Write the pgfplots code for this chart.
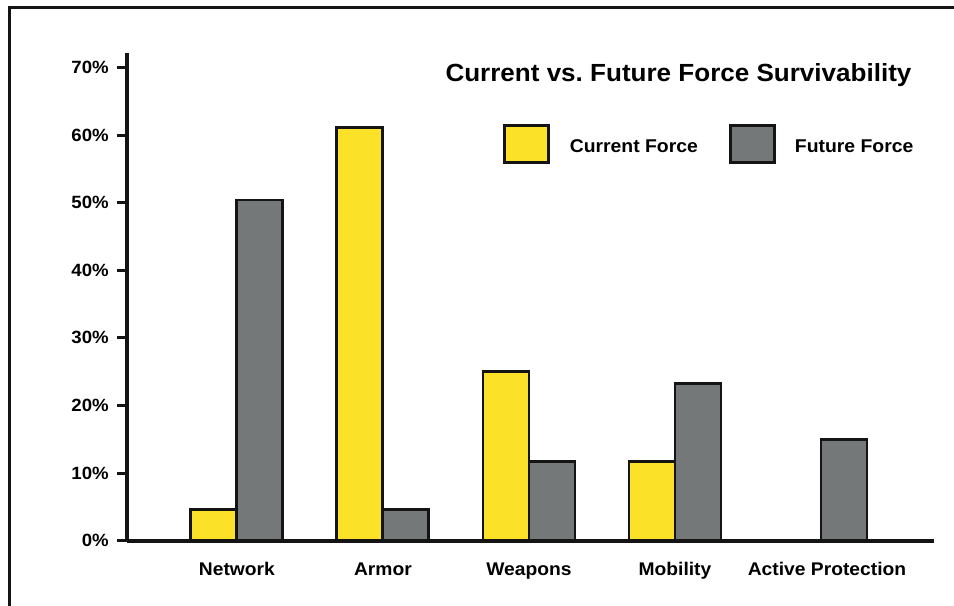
\documentclass[border=0pt]{standalone}
\usepackage{fontspec}
\setmainfont{Liberation Sans}[FakeStretch=1.05]
\usepackage{pgfplots}
\pgfplotsset{compat=1.18}
\definecolor{curyellow}{RGB}{251,226,40}
\definecolor{futgray}{RGB}{116,120,120}
\definecolor{ink}{RGB}{20,20,20}
\frenchspacing

\begin{document}
\begin{tikzpicture}
\useasboundingbox (0,0) rectangle (715.5pt,454.5pt);
% page frame: left and top rules
\draw[ink, line width=2.25pt] (6.75pt,0pt) -- (6.75pt,448.7pt) -- (716pt,448.7pt);
\begin{axis}[
  at={(95.25pt,48.975pt)}, anchor=south west,
  scale only axis, width=605.25pt, height=365.55pt,
  xmin=-0.753, xmax=4.774, ymin=0, ymax=72.1,
  ybar=0pt, bar width=34.5pt,
  axis on top,
  axis x line*=bottom, axis y line*=left,
  axis line style={line width=3pt, ink},
  ytick={0,10,...,70},
  yticklabels={0\%,10\%,20\%,30\%,40\%,50\%,60\%,70\%},
  tick align=outside, major tick length=7.5pt,
  ytick style={line width=2.25pt, ink},
  xtick={0,1,2,3,4},
  xticklabels={Network,Armor,Weapons,Mobility,\hspace*{9pt}Active Protection},
  xtick style={draw=none},
  yticklabel style={font=\fontsize{13.3}{15}\selectfont\bfseries, anchor=east, inner sep=0pt, xshift=-6pt},
  xticklabel style={font=\fontsize{13.75}{16}\selectfont\bfseries, anchor=base, inner sep=0pt, yshift=-18.75pt},
  legend columns=2,
  legend style={draw=none, fill=none, inner xsep=0pt, inner ysep=0pt,
    at={(0.4662,0.8139)}, anchor=west,
    font=\fontsize{13.85}{16}\selectfont\bfseries,
    nodes={inner sep=0pt},
    /tikz/every odd column/.append style={column sep=14.5pt},
    /tikz/every even column/.append style={column sep=23pt}},
  legend cell align=left,
  % swatches sit slightly above the text line
  legend image code/.code={\draw[#1, line width=2.2pt] (0pt,-11.65pt) rectangle (33pt,16.15pt);},
]
\addplot[fill=curyellow, draw=ink, line width=2.2pt]
  coordinates {(0,4.6) (1,61.1) (2,25.0) (3,11.7) (4,0)};
\addplot[fill=futgray, draw=ink, line width=2.2pt]
  coordinates {(0,50.4) (1,4.6) (2,11.7) (3,23.2) (4,15.0)};
\legend{Current Force, Future Force}
\node[anchor=base east, inner sep=0pt, font=\fontsize{18.6}{22}\selectfont\bfseries]
  at (rel axis cs:0.9724,0.9411) {Current vs. Future Force Survivability};
\end{axis}
\end{tikzpicture}
\end{document}
